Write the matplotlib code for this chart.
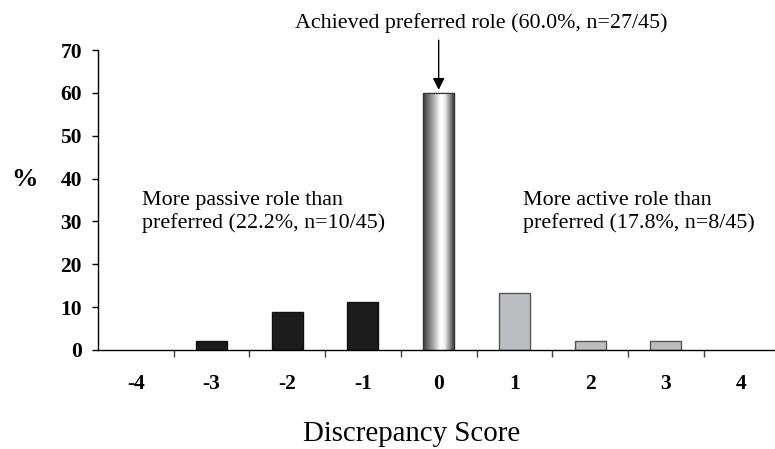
import matplotlib.pyplot as plt
import numpy as np
from matplotlib.colors import LinearSegmentedColormap

scores = [-4, -3, -2, -1, 0, 1, 2, 3, 4]
percent = [0.0, 2.2, 8.9, 11.1, 60.0, 13.3, 2.2, 2.2, 0.0]
yticks = [0, 10, 20, 30, 40, 50, 60, 70]

plt.rcParams["font.family"] = ["Liberation Serif", "DejaVu Serif"]

fig = plt.figure(figsize=(7.75, 4.49), dpi=100)
ax = fig.add_axes([0.1265, 0.2205, 0.8735, 0.6681])

width = 0.41
colors = []
for s in scores:
    if s < 0:
        colors.append("#1c1c1c")
    elif s > 0:
        colors.append("#bdbec2")
    else:
        colors.append("none")
edges = ["#111111" if s < 0 else "#555555" for s in scores]
lws = [1.0 if v > 0 else 0.0 for v in percent]

bars = ax.bar(scores, percent, width=width, color=colors, edgecolor=edges, linewidth=lws, zorder=2)

# cylinder-like shading on the centre bar
centre = bars[scores.index(0)]
cmap = LinearSegmentedColormap.from_list(
    "cyl",
    [(0.0, "#3a3a3a"), (0.15, "#6e6e6e"), (0.35, "#b4b4b4"), (0.55, "#ffffff"),
     (0.68, "#f0f0f0"), (0.85, "#8a8a8a"), (1.0, "#2a2a2a")],
)
grad = np.linspace(0, 1, 200).reshape(1, -1)
x0 = centre.get_x()
img = ax.imshow(grad, cmap=cmap, aspect="auto", zorder=2,
                extent=(x0, x0 + centre.get_width(), 0, centre.get_height()))
img.set_clip_path(centre)
ax.bar([0], [percent[scores.index(0)]], width=width, color="none", edgecolor="#333333", linewidth=0.8, zorder=3)

ax.set_xlim(-4.5, 4.443)
ax.set_ylim(0, 70)

ax.spines["top"].set_visible(False)
ax.spines["right"].set_visible(False)
ax.spines["left"].set_linewidth(1.0)
ax.spines["bottom"].set_linewidth(1.0)

ax.set_yticks(yticks)
ax.set_yticklabels([str(v) for v in yticks], fontsize=15.5, fontweight="bold")
ax.tick_params(axis="y", direction="out", length=4.5, width=1, pad=7)

# tick marks between categories, labels centred on categories
ax.set_xticks([s + 0.5 for s in scores[:-1]])
ax.set_xticklabels([])
ax.set_xticks(scores, minor=True)
ax.set_xticklabels([str(s) for s in scores], minor=True, fontsize=15.5, fontweight="bold")
ax.tick_params(axis="x", which="major", direction="out", length=5, width=1, color="#444444")
ax.tick_params(axis="x", which="minor", length=0, pad=17)

ax.set_xlabel("Discrepancy Score", fontsize=20.8, va="baseline")
ax.xaxis.set_label_coords(0.463, -0.305)
ax.set_ylabel("%", fontsize=19, fontweight="bold", rotation=0, ha="center", va="center")
ax.yaxis.set_label_coords(-0.1086, 0.567)

ax.annotate("", xy=(0, 60.7), xytext=(0, 72.3), annotation_clip=False,
            arrowprops=dict(arrowstyle="-|>,head_length=0.5,head_width=0.25", color="black",
                            lw=1.0, mutation_scale=14, shrinkA=0, shrinkB=0))
ax.text(-1.892, 75.1, "Achieved preferred role (60.0%, n=27/45)",
        fontsize=15.8, ha="left", va="baseline", clip_on=False)
ax.text(-3.913, 33.8, "More passive role than", fontsize=15.8, ha="left", va="baseline")
ax.text(-3.913, 28.5, "preferred (22.2%, n=10/45)", fontsize=15.8, ha="left", va="baseline")
ax.text(1.12, 33.8, "More active role than", fontsize=15.8, ha="left", va="baseline")
ax.text(1.12, 28.5, "preferred (17.8%, n=8/45)", fontsize=15.8, ha="left", va="baseline")

fig.savefig("out.png", dpi=100)
